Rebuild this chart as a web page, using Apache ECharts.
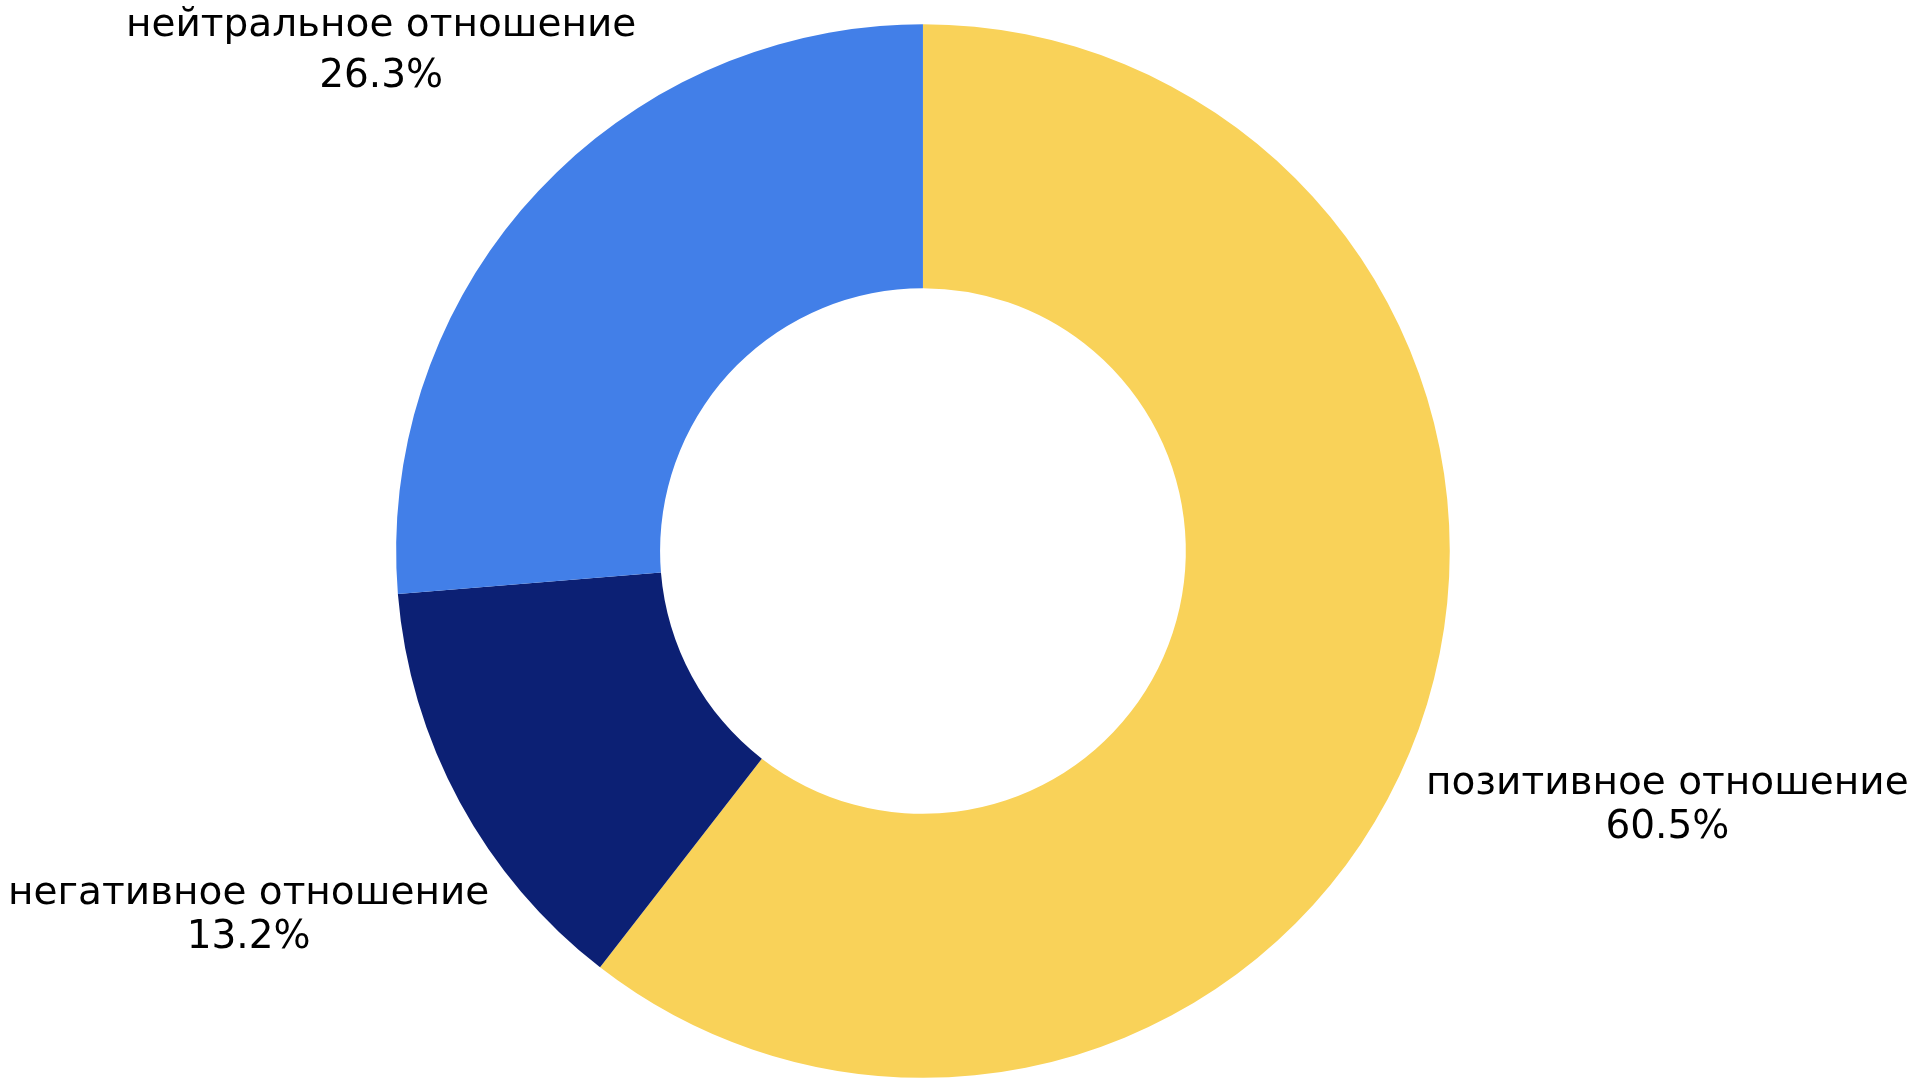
<!DOCTYPE html>
<html>
<head>
<meta charset="utf-8">
<script src="https://cdn.jsdelivr.net/npm/echarts@6/dist/echarts.min.js"></script>
<style>
html,body{margin:0;padding:0;background:#fff;}
#chart{width:1920px;height:1084px;}
</style>
</head>
<body>
<div id="chart"></div>
<script>
// Data
var categories = ['позитивное отношение', 'негативное отношение', 'нейтральное отношение'];
var values = [60.5, 13.2, 26.3];

// Styles (kept separate from data)
var colors = ['#F9D259', '#0C2074', '#427FE8'];
var labelLengths = [260, 240, 210];
var labelLineHeights = [44, 44, 51];

var seriesData = categories.map(function (name, i) {
  return {
    name: name,
    value: values[i],
    itemStyle: { color: colors[i] },
    labelLine: { show: false, length: labelLengths[i], length2: 0 },
    label: { lineHeight: labelLineHeights[i] }
  };
});

var chart = echarts.init(document.getElementById('chart'));
chart.setOption({
  backgroundColor: '#ffffff',
  animation: false,
  series: [{
    type: 'pie',
    center: ['48.07%', '50.83%'],
    radius: ['48.5%', '97.2%'],
    startAngle: 90,
    clockwise: true,
    avoidLabelOverlap: false,
    data: seriesData,
    itemStyle: { borderWidth: 0 },
    label: {
      show: true,
      position: 'outside',
      alignTo: 'none',
      distanceToLabelLine: 0,
      color: '#000000',
      fontFamily: 'DejaVu Sans',
      fontSize: 39,
      lineHeight: 44,
      formatter: function (p) {
        return p.name + '\n' + p.value.toFixed(1) + '%';
      }
    },
    labelLine: { show: false },
    labelLayout: function () {
      return { align: 'center', verticalAlign: 'middle' };
    },
    emphasis: { disabled: true }
  }]
});
</script>
</body>
</html>
